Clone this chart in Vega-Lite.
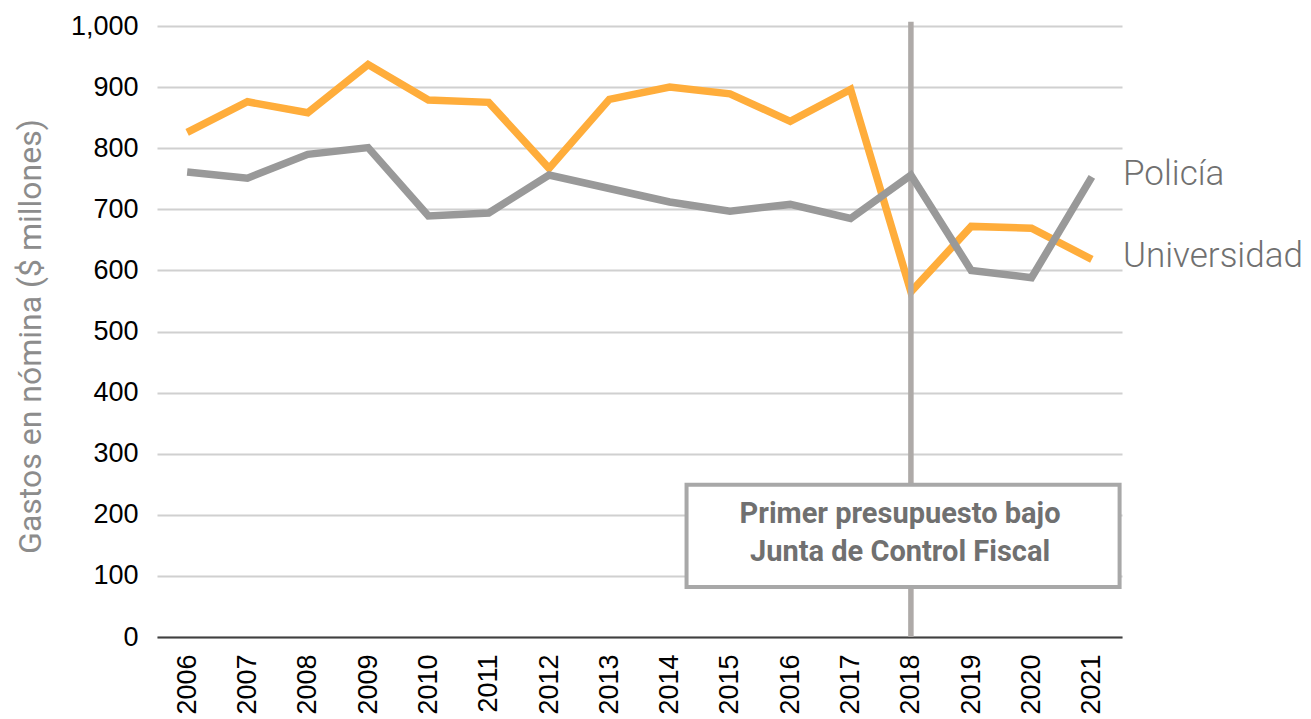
{
  "$schema": "https://vega.github.io/schema/vega-lite/v6.json",
  "autosize": {"type": "none"},
  "padding": {"left": 157, "top": 26, "right": 189, "bottom": 82},
  "width": 965,
  "height": 611,
  "background": "white",
  "config": {"view": {"stroke": null}},
  "datasets": {
    "series": [
      {"year": 2006, "serie": "Universidad", "value": 826},
      {"year": 2007, "serie": "Universidad", "value": 876},
      {"year": 2008, "serie": "Universidad", "value": 858},
      {"year": 2009, "serie": "Universidad", "value": 937},
      {"year": 2010, "serie": "Universidad", "value": 879},
      {"year": 2011, "serie": "Universidad", "value": 875},
      {"year": 2012, "serie": "Universidad", "value": 767},
      {"year": 2013, "serie": "Universidad", "value": 880},
      {"year": 2014, "serie": "Universidad", "value": 900},
      {"year": 2015, "serie": "Universidad", "value": 889},
      {"year": 2016, "serie": "Universidad", "value": 844},
      {"year": 2017, "serie": "Universidad", "value": 896},
      {"year": 2018, "serie": "Universidad", "value": 565},
      {"year": 2019, "serie": "Universidad", "value": 672},
      {"year": 2020, "serie": "Universidad", "value": 669},
      {"year": 2021, "serie": "Universidad", "value": 618},
      {"year": 2006, "serie": "Policía", "value": 761},
      {"year": 2007, "serie": "Policía", "value": 751},
      {"year": 2008, "serie": "Policía", "value": 790},
      {"year": 2009, "serie": "Policía", "value": 801},
      {"year": 2010, "serie": "Policía", "value": 689},
      {"year": 2011, "serie": "Policía", "value": 694},
      {"year": 2012, "serie": "Policía", "value": 756},
      {"year": 2013, "serie": "Policía", "value": 734},
      {"year": 2014, "serie": "Policía", "value": 712},
      {"year": 2015, "serie": "Policía", "value": 697},
      {"year": 2016, "serie": "Policía", "value": 708},
      {"year": 2017, "serie": "Policía", "value": 685},
      {"year": 2018, "serie": "Policía", "value": 756},
      {"year": 2019, "serie": "Policía", "value": 600},
      {"year": 2020, "serie": "Policía", "value": 588},
      {"year": 2021, "serie": "Policía", "value": 753}
    ],
    "marker": [{"year": 2018, "value": 1007, "value2": 0}],
    "box": [{"year": 2014.28, "year2": 2021.46, "value": 249, "value2": 82, "text": "Primer presupuesto bajo\nJunta de Control Fiscal", "tx": 2017.82, "ty": 186}],
    "labels": [
      {"year": 2021.5, "value": 739.4, "label": "Policía"},
      {"year": 2021.5, "value": 605.8, "label": "Universidad"}
    ]
  },
  "encoding": {
    "x": {
      "field": "year",
      "type": "quantitative",
      "scale": {"domain": [2005.5, 2021.5], "nice": false, "zero": false},
      "axis": {
        "title": null,
        "values": [2006, 2007, 2008, 2009, 2010, 2011, 2012, 2013, 2014, 2015, 2016, 2017, 2018, 2019, 2020, 2021],
        "format": "d",
        "labelAngle": -90,
        "labelFont": "Liberation Sans",
        "labelFontSize": 27,
        "labelColor": "#000000",
        "labelPadding": 17,
        "labelOverlap": false,
        "labelFlush": false,
        "ticks": false,
        "tickSize": 0,
        "grid": false,
        "domain": true,
        "domainColor": "#404040",
        "domainWidth": 2
      }
    },
    "y": {
      "field": "value",
      "type": "quantitative",
      "scale": {"domain": [0, 1000], "nice": false},
      "axis": {
        "title": "Gastos en nómina ($ millones)",
        "titleFont": "Roboto",
        "titleFontWeight": 400,
        "titleFontSize": 32,
        "titleColor": "#8c8c8c",
        "titleX": -117,
        "titleY": 310,
        "titleAngle": -90,
        "titleAlign": "center",
        "titleBaseline": "alphabetic",
        "values": [0, 100, 200, 300, 400, 500, 600, 700, 800, 900, 1000],
        "format": ",d",
        "labelFont": "Liberation Sans",
        "labelFontSize": 27,
        "labelColor": "#000000",
        "labelPadding": 19,
        "ticks": false,
        "tickSize": 0,
        "domain": false,
        "grid": true,
        "gridColor": "#d0d0d0",
        "gridWidth": 2
      }
    }
  },
  "layer": [
    {
      "data": {"name": "series"},
      "transform": [{"filter": "datum.serie === 'Universidad'"}],
      "mark": {"type": "line", "color": "#ffad3b", "strokeWidth": 7.5, "strokeJoin": "miter", "strokeCap": "butt"}
    },
    {
      "data": {"name": "marker"},
      "mark": {"type": "rule", "color": "#aeaaa8", "strokeWidth": 5.5},
      "encoding": {"y2": {"field": "value2"}}
    },
    {
      "data": {"name": "series"},
      "transform": [{"filter": "datum.serie === 'Policía'"}],
      "mark": {"type": "line", "color": "#999999", "strokeWidth": 7.5, "strokeJoin": "miter", "strokeCap": "butt"}
    },
    {
      "data": {"name": "box"},
      "mark": {"type": "rect", "fill": "#ffffff", "stroke": "#a8a8a8", "strokeWidth": 4},
      "encoding": {"x2": {"field": "year2"}, "y2": {"field": "value2"}}
    },
    {
      "data": {"name": "box"},
      "mark": {"type": "text", "align": "center", "baseline": "alphabetic", "lineBreak": "\n", "lineHeight": 38, "font": "Roboto", "fontWeight": "bold", "fontSize": 29, "color": "#707070"},
      "encoding": {
        "x": {"field": "tx", "type": "quantitative"},
        "y": {"field": "ty", "type": "quantitative"},
        "text": {"field": "text"}
      }
    },
    {
      "data": {"name": "labels"},
      "mark": {"type": "text", "align": "left", "baseline": "alphabetic", "dx": 1, "font": "Roboto", "fontWeight": 300, "fontSize": 35, "color": "#707070"},
      "encoding": {"text": {"field": "label"}}
    }
  ]
}
